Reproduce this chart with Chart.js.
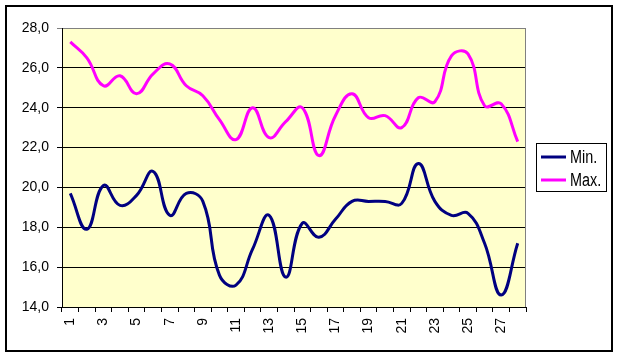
<!DOCTYPE html>
<html>
<head>
<meta charset="utf-8">
<script src="https://cdn.jsdelivr.net/npm/chart.js@4"></script>
<style>
  body { margin: 0; background: #fff; }
  #chart { display: block; }
</style>
</head>
<body>
<canvas id="chart" width="619" height="357"></canvas>
<script>
// days of the month
const days = ['1', '2', '3', '4', '5', '6', '7', '8', '9', '10', '11', '12', '13', '14',
  '15', '16', '17', '18', '19', '20', '21', '22', '23', '24', '25', '26', '27', '28'];

// temperatures
const minTemps = [19.7, 17.9, 20.1, 19.1, 19.6, 20.8, 18.6, 19.7, 19.3, 15.6, 15.1, 16.9, 18.6, 15.5,
  18.2, 17.5, 18.4, 19.3, 19.3, 19.3, 19.2, 21.2, 19.3, 18.6, 18.7, 17.2, 14.6, 17.2];
const maxTemps = [27.3, 26.5, 25.1, 25.6, 24.7, 25.7, 26.2, 25.1, 24.6, 23.4, 22.4, 24.0, 22.5, 23.3,
  24.0, 21.6, 23.6, 24.7, 23.5, 23.6, 23.0, 24.5, 24.3, 26.6, 26.7, 24.1, 24.2, 22.3];

const seriesNames = ['Min.', 'Max.'];
const seriesColors = ['#000080', '#FF00FF'];

const yMin = 14;
const yMax = 28;
const yStep = 2;

const FONT = "'Liberation Sans', Arial, sans-serif";

// frame, plot background, right border and legend like the Excel chart
const excelLook = {
  id: 'excelLook',
  beforeDraw(chart) {
    const ctx = chart.ctx;
    const a = chart.chartArea;
    ctx.save();
    ctx.fillStyle = '#fff';
    ctx.fillRect(0, 0, chart.width, chart.height);
    ctx.fillStyle = '#FFFFCC';
    ctx.fillRect(a.left, a.top, a.right - a.left, a.bottom - a.top);
    ctx.restore();
  },
  beforeDatasetsDraw(chart) {
    const ctx = chart.ctx;
    const a = chart.chartArea;
    ctx.save();
    ctx.strokeStyle = '#808080';
    ctx.lineWidth = 1;
    ctx.beginPath();
    ctx.moveTo(Math.round(a.right) - 0.5, a.top);
    ctx.lineTo(Math.round(a.right) - 0.5, a.bottom);
    ctx.stroke();
    ctx.restore();
  },
  afterDraw(chart) {
    const ctx = chart.ctx;
    ctx.save();
    // outer frame
    ctx.strokeStyle = '#000';
    ctx.lineWidth = 2;
    ctx.strokeRect(6, 6, 606, 345);

    // legend
    const lx = 536.5, ly = 143.5, lw = 70, lh = 48;
    ctx.fillStyle = '#fff';
    ctx.fillRect(lx, ly, lw, lh);
    ctx.lineWidth = 1;
    ctx.strokeRect(lx, ly, lw, lh);
    chart.data.datasets.forEach((ds, i) => {
      const y = 157 + i * 23;
      ctx.strokeStyle = ds.borderColor;
      ctx.lineWidth = 3;
      ctx.beginPath();
      ctx.moveTo(541, y);
      ctx.lineTo(566, y);
      ctx.stroke();
      ctx.save();
      ctx.translate(570, y + 1);
      ctx.scale(0.8, 1);
      ctx.fillStyle = '#000';
      ctx.font = '18px ' + FONT;
      ctx.textBaseline = 'middle';
      ctx.fillText(ds.label, 0, 0);
      ctx.restore();
    });
    ctx.restore();
  }
};

const ctx = document.getElementById('chart').getContext('2d');
const chart = new Chart(ctx, {
  type: 'line',
  data: {
    labels: days,
    datasets: [
      {
        label: seriesNames[0],
        data: minTemps,
        borderColor: seriesColors[0],
        borderWidth: 3,
        pointRadius: 0,
        tension: 0.45,
        fill: false
      },
      {
        label: seriesNames[1],
        data: maxTemps,
        borderColor: seriesColors[1],
        borderWidth: 3,
        pointRadius: 0,
        tension: 0.45,
        fill: false
      }
    ]
  },
  options: {
    responsive: false,
    animation: false,
    devicePixelRatio: 1,
    layout: { padding: { left: 0, top: 28, right: 93, bottom: 0 } },
    plugins: {
      legend: { display: false },
      tooltip: { enabled: false }
    },
    scales: {
      x: {
        offset: true,
        afterFit(scale) { scale.height = 50; },
        grid: {
          offset: true,
          drawOnChartArea: false,
          color: '#000',
          tickLength: 5
        },
        border: { color: '#000' },
        ticks: {
          autoSkip: false,
          minRotation: 90,
          maxRotation: 90,
          padding: 6,
          color: '#000',
          font: { family: FONT, size: 14 },
          callback: (v, i) => (i % 2 === 0 ? days[i] : '')
        }
      },
      y: {
        min: yMin,
        max: yMax,
        afterFit(scale) { scale.width = 62; },
        grid: {
          color: (c) => (c.tick && c.tick.value === yMax ? '#808080' : '#000'),
          tickLength: 5
        },
        border: { color: '#000' },
        ticks: {
          stepSize: yStep,
          padding: 8,
          color: '#000',
          font: { family: FONT, size: 14 },
          callback: (v) => v.toFixed(1).replace('.', ',')
        }
      }
    }
  },
  plugins: [excelLook]
});
</script>
</body>
</html>
